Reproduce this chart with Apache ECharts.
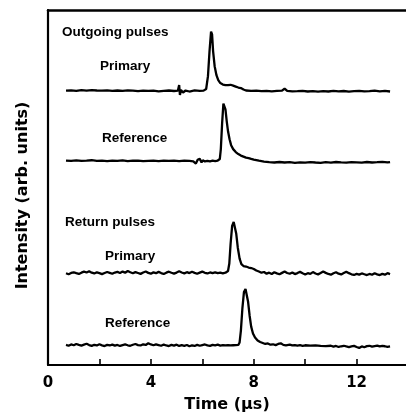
<!DOCTYPE html>
<html>
<head>
<meta charset="utf-8">
<script src="https://cdn.jsdelivr.net/npm/echarts@6/dist/echarts.min.js"></script>
<style>
html,body{margin:0;padding:0;background:#fff;}
#chart{width:406px;height:418px;}
</style>
</head>
<body>
<div id="chart"></div>
<script>
// Time values (µs) and intensities (arb. units, relative to each trace's baseline)
const outPrimaryT = [0.7,0.9,1.1,1.3,1.5,1.7,1.9,2.1,2.3,2.5,2.7,2.9,3.1,3.3,3.5,3.7,3.9,4.1,4.3,4.5,4.7,4.9,5.05,5.1,5.13,5.17,5.25,5.35,5.5,5.7,5.9,6.05,6.15,6.22,6.28,6.34,6.38,6.42,6.48,6.55,6.62,6.7,6.8,6.9,7.0,7.1,7.2,7.3,7.4,7.5,7.6,7.7,7.9,8.1,8.3,8.5,8.7,8.9,9.1,9.2,9.3,9.5,9.7,9.9,10.1,10.3,10.5,10.7,10.9,11.1,11.3,11.5,11.7,11.9,12.1,12.3,12.5,12.7,12.9,13.1,13.3];
const outPrimaryV = [0.3,0.6,0.2,0.8,0.4,0.9,0.5,0.3,0.7,0.2,0.5,0.1,0.6,0.3,-0.2,0.4,0.1,0.3,-0.3,0.2,0.5,0.0,0.3,6,-4,1,-1.5,0.5,-0.5,0.6,0.2,0.4,2,15,40,60,57,40,25,16,11,8,6.5,6,6,6.3,5.5,4.5,3.5,3,1.5,0.5,0.2,0.4,-0.2,0.1,-0.3,0.2,0.3,2.5,0.2,-0.4,-0.2,0.1,-0.5,-0.1,-0.6,-0.2,-0.5,0.1,-0.4,0.0,-0.6,-0.2,0.2,-0.4,-0.1,0.3,-0.3,0.2,-0.5];

const outReferenceT = [0.7,0.9,1.1,1.3,1.5,1.7,1.9,2.1,2.3,2.5,2.7,2.9,3.1,3.3,3.5,3.7,3.9,4.1,4.3,4.5,4.7,4.9,5.1,5.3,5.5,5.65,5.7,5.75,5.82,5.9,5.97,6.02,6.1,6.2,6.3,6.4,6.5,6.6,6.68,6.72,6.77,6.82,6.86,6.9,6.95,7.0,7.06,7.12,7.2,7.3,7.4,7.5,7.6,7.7,7.8,7.9,8.0,8.1,8.2,8.4,8.6,8.8,9.0,9.2,9.4,9.6,9.8,10.0,10.2,10.4,10.6,10.8,11.0,11.2,11.4,11.6,11.8,12.0,12.2,12.4,12.6,12.8,13.0,13.2,13.3];
const outReferenceV = [0.5,0.2,0.6,0.1,0.4,0.8,0.2,0.3,-0.1,0.5,0.2,0.6,0.0,0.3,0.5,-0.1,0.2,0.4,0.0,0.5,0.1,0.3,-0.2,0.4,0.1,-0.3,1.5,-2.5,1.2,2.2,-1.5,0.8,-0.4,0.2,-0.3,0.3,0.0,0.5,2,12,38,58,59,52,40,30,22,16,12,9,7,5.5,4.5,3.5,3,2.2,1.5,1,0.3,-0.5,-1.2,-1.5,-1.0,-1.5,-1.2,-1.8,-1.3,-1.6,-1.1,-1.5,-1.8,-1.2,-1.6,-1.0,-1.4,-1.7,-1.1,-1.3,-1.6,-1.0,-1.5,-1.2,-0.8,-1.4,-1.0];

const retPrimaryT = [0.7,0.8,0.9,1.0,1.1,1.2,1.3,1.4,1.5,1.6,1.7,1.8,1.9,2.0,2.1,2.2,2.3,2.4,2.5,2.6,2.7,2.8,2.9,3.0,3.1,3.2,3.3,3.4,3.5,3.6,3.7,3.8,3.9,4.0,4.1,4.2,4.3,4.4,4.5,4.6,4.7,4.8,4.9,5.0,5.1,5.2,5.3,5.4,5.5,5.6,5.7,5.8,5.9,6.0,6.1,6.2,6.3,6.4,6.5,6.6,6.7,6.8,6.9,7.0,7.05,7.1,7.16,7.22,7.27,7.32,7.38,7.45,7.52,7.6,7.7,7.8,7.9,8.0,8.1,8.2,8.3,8.4,8.5,8.6,8.7,8.8,8.9,9.0,9.1,9.2,9.3,9.4,9.5,9.6,9.7,9.8,9.9,10.0,10.1,10.2,10.3,10.4,10.5,10.6,10.7,10.8,10.9,11.0,11.1,11.2,11.3,11.4,11.5,11.6,11.7,11.8,11.9,12.0,12.1,12.2,12.3,12.4,12.5,12.6,12.7,12.8,12.9,13.0,13.1,13.2,13.3];
const retPrimaryV = [0.2,-0.8,0.5,1.2,0.3,-0.5,0.8,1.8,1.0,2.2,0.8,0.0,1.2,0.4,-0.6,0.5,1.5,0.6,-0.3,0.9,1.6,0.5,1.9,0.8,2.5,1.2,0.2,1.4,0.5,-0.4,1.0,2.0,0.6,-0.2,1.1,0.3,1.6,0.4,-0.5,0.8,1.8,0.7,-0.2,0.9,2.2,1.0,0.1,1.3,0.4,1.7,0.6,-0.3,0.8,1.9,0.7,0.0,1.0,0.3,1.2,0.4,0.9,0.2,0.8,2.5,10,30,48,52,50,40,26,15,9.5,7.5,7,6,5.5,4.5,3,2,0.8,1.5,-0.2,0.8,-0.5,1.2,0.1,-0.8,0.6,2.0,0.5,-0.3,1.0,-0.6,0.4,1.6,0.2,-1.0,0.3,-0.4,1.4,0.0,-0.9,0.5,2.0,0.6,-0.5,-1.2,0.2,1.3,-0.2,-1.0,0.4,1.8,0.3,-0.8,-1.5,-0.4,-1.2,0.0,-0.8,-1.6,-0.5,-1.3,0.2,-0.9,-1.6,-0.4,-1.2,0.3,-0.6];

const retReferenceT = [0.7,0.8,0.9,1.0,1.1,1.2,1.3,1.4,1.5,1.6,1.7,1.8,1.9,2.0,2.1,2.2,2.3,2.4,2.5,2.6,2.7,2.8,2.9,3.0,3.1,3.2,3.3,3.4,3.5,3.6,3.7,3.8,3.9,4.0,4.1,4.2,4.3,4.4,4.5,4.6,4.7,4.8,4.9,5.0,5.1,5.2,5.3,5.4,5.5,5.6,5.7,5.8,5.9,6.0,6.1,6.2,6.3,6.4,6.5,6.6,6.7,6.8,6.9,7.0,7.1,7.2,7.3,7.4,7.45,7.5,7.56,7.62,7.68,7.73,7.78,7.84,7.9,7.97,8.05,8.15,8.25,8.35,8.45,8.55,8.65,8.75,8.85,8.95,9.05,9.15,9.25,9.4,9.5,9.6,9.7,9.8,9.9,10.0,10.2,10.4,10.6,10.8,11.0,11.1,11.2,11.3,11.4,11.5,11.6,11.7,11.8,11.9,12.0,12.1,12.2,12.3,12.4,12.5,12.6,12.7,12.8,12.9,13.0,13.1,13.2,13.3];
const retReferenceV = [0.5,-0.3,1.0,0.2,1.5,0.6,-0.2,0.8,1.7,0.4,-0.4,0.7,0.0,1.2,0.1,-0.6,0.6,0.0,0.9,-0.2,0.5,-0.5,0.3,1.0,0.2,-0.3,0.7,1.5,0.4,0.0,1.2,0.5,2.2,1.0,0.2,1.1,0.4,-0.3,0.9,0.0,-0.6,0.6,-0.2,0.8,-0.5,0.3,-0.4,0.5,-0.8,0.2,-0.5,0.6,-0.3,0.4,1.0,0.1,-0.4,0.6,0.2,0.8,-0.1,0.4,0.0,0.3,0.1,0.2,0.3,0.5,3,15,38,54,57,55,44,30,19,12,8,5,3.5,2.5,1.5,2.0,0.8,1.2,0.3,1.5,2.2,0.6,0.2,0.8,0.0,0.4,-0.2,0.3,-0.3,0.2,-0.2,0.1,-0.4,-0.6,-0.3,-1.2,-0.5,-1.5,-0.8,-0.3,-1.0,-1.6,-0.9,-0.4,-1.5,-2.5,-1.0,-1.8,-0.7,-0.3,-1.2,-0.6,-0.2,-1.0,-0.5,-0.8,-1.5,-1.0];

// vertical offsets of each trace (stacked display)
const offsets = [276.3, 205.7, 92.3, 19.7];
const xTickValues = [2, 4, 6, 8, 10, 12];
const xLabelValues = [0, 4, 8, 12];
const panelLabels = ['Outgoing pulses', 'Primary', 'Reference', 'Return pulses', 'Primary', 'Reference'];

function pairs(t, v, off) { return t.map((x, i) => [x, v[i] + off]); }

const traces = [
  pairs(outPrimaryT, outPrimaryV, offsets[0]),
  pairs(outReferenceT, outReferenceV, offsets[1]),
  pairs(retPrimaryT, retPrimaryV, offsets[2]),
  pairs(retReferenceT, retReferenceV, offsets[3])
];

const chart = echarts.init(document.getElementById('chart'), null, {renderer: 'canvas'});
const labelFont = {fontFamily: 'Liberation Sans', fontWeight: 'bold', fontSize: 13.5, fill: '#000'};
const labelPos = [[62,32],[100,66.5],[102,138.5],[65,222],[105,256.5],[105,323.5]];

chart.setOption({
  backgroundColor: '#fff',
  animation: false,
  grid: {left: 48, right: 0, top: 10, bottom: 50},
  xAxis: [{
    type: 'value', min: 0, max: 13.92, position: 'bottom',
    name: 'Time (µs)', nameLocation: 'middle', nameGap: 32,
    nameTextStyle: {fontFamily: 'DejaVu Sans', fontWeight: 'bold', fontSize: 16, color: '#000'},
    axisLine: {show: true, lineStyle: {color: '#000', width: 2.2}},
    axisTick: {show: true, inside: true, length: 6, customValues: xTickValues, lineStyle: {color: '#000', width: 1.6}},
    axisLabel: {show: true, customValues: xLabelValues, margin: 11, fontFamily: 'DejaVu Sans', fontWeight: 'bold', fontSize: 15, color: '#000'},
    splitLine: {show: false}
  }, {
    type: 'value', min: 0, max: 13.92, position: 'top',
    axisLine: {show: true, lineStyle: {color: '#000', width: 2.5}},
    axisTick: {show: false}, axisLabel: {show: false}, splitLine: {show: false}
  }],
  yAxis: {
    type: 'value', min: 0, max: 358,
    name: 'Intensity (arb. units)', nameLocation: 'middle', nameGap: 17,
    nameTextStyle: {fontFamily: 'DejaVu Sans', fontWeight: 'bold', fontSize: 16, color: '#000', padding: [0, 0, 0, -16]},
    axisLine: {show: true, lineStyle: {color: '#000', width: 2.2}},
    axisTick: {show: false}, axisLabel: {show: false}, splitLine: {show: false}
  },
  series: traces.map(d => ({
    type: 'line', data: d, showSymbol: false, smooth: false,
    lineStyle: {color: '#000', width: 2.3}, silent: true
  })),
  graphic: panelLabels.map((s, i) => ({
    type: 'text', x: labelPos[i][0], y: labelPos[i][1],
    style: Object.assign({text: s, verticalAlign: 'middle', align: 'left'}, labelFont)
  }))
});
</script>
</body>
</html>
